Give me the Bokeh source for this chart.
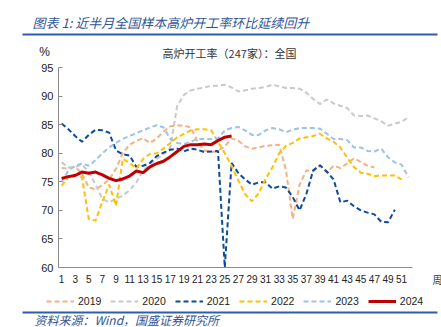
from bokeh.plotting import figure
from bokeh.models import Range1d, FixedTicker, Label, BoxAnnotation, Legend, LinearAxis
from bokeh.embed import file_html
from bokeh.resources import INLINE

weeks_all = list(range(1, 53))

y2019 = [77.4, 77.3, 77.6, 76.5, 74.0, 73.7, 74.4, 75.4, 77.3, 80.0, 81.5, 82.2, 82.6, 81.8, 82.6, 83.8,
         84.7, 84.9, 84.8, 84.5, 82.0, 80.5, 80.2, 80.4, 81.2, 82.6, 82.2, 81.2, 80.8, 81.0, 81.3, 81.4,
         81.5, 77.0, 68.5, 74.5, 77.0, 76.8, 77.8, 76.6, 77.8, 77.4, 78.2, 79.1, 78.5, 77.8, 77.5]
y2020 = [78.4, 77.5, 77.6, 78.0, 76.8, 74.5, 72.0, 71.4, 72.0, 72.6, 73.5, 74.9, 77.0, 78.0, 79.0, 79.8,
         81.0, 88.3, 90.2, 91.0, 91.3, 91.5, 91.8, 91.8, 92.0, 91.5, 90.8, 91.0, 91.3, 91.4, 91.6, 92.0,
         91.7, 91.4, 91.4, 91.3, 90.6, 89.5, 88.6, 89.4, 88.7, 88.3, 87.9, 86.6, 86.5, 86.6, 86.1, 85.6,
         84.8, 85.2, 85.5, 86.3]
y2021 = [85.2, 84.2, 83.0, 82.0, 83.2, 84.1, 84.0, 83.6, 80.5, 79.8, 79.6, 77.6, 77.8, 78.3, 79.5, 80.1,
         80.6, 80.8, 80.3, 80.8, 80.6, 80.2, 80.3, 80.4, 60.0, 78.3, 76.5, 75.4, 74.5, 74.9, 74.9, 73.8,
         74.2, 74.0, 72.3, 70.0, 72.9, 77.0, 77.9, 76.8, 75.4, 71.4, 71.7, 70.7, 70.0, 69.6, 69.3, 68.0,
         67.9, 70.1]
y2022 = [74.3, 75.8, 76.3, 75.8, 68.5, 68.2, 71.5, 74.5, 70.8, 79.0, 78.3, 77.3, 79.0, 79.9, 80.0, 80.8,
         81.8, 82.8, 83.4, 84.0, 84.2, 84.2, 84.0, 82.0, 80.0, 77.8, 75.2, 72.8, 71.6, 73.0, 75.5, 77.5,
         80.0, 81.3, 81.8, 82.6, 82.8, 83.0, 83.4, 82.6, 82.0, 81.0, 79.2, 77.6, 76.6, 76.4, 76.0, 76.1,
         76.1, 76.1, 75.4]
y2023 = [74.9, 77.0, 77.8, 78.2, 77.8, 78.8, 80.0, 81.0, 81.8, 82.5, 83.0, 83.5, 84.0, 84.5, 84.9, 84.5,
         82.5, 81.8, 81.6, 82.0, 82.5, 82.5, 82.5, 82.6, 84.0, 84.4, 84.6, 84.0, 83.2, 83.2, 84.0, 84.4,
         84.2, 83.7, 84.1, 84.4, 84.4, 84.4, 84.3, 83.4, 82.5, 82.5, 82.3, 81.0, 81.0, 80.4, 80.3, 80.8,
         79.3, 78.4, 78.0, 75.8]
y2024 = [75.6, 75.9, 76.1, 76.7, 76.5, 76.7, 76.2, 75.6, 75.2, 75.5, 76.0, 76.9, 76.6, 77.6, 78.2, 78.6,
         79.4, 80.3, 81.2, 81.5, 81.5, 81.6, 81.5, 82.2, 82.8, 83.0]

x_ticks = list(range(1, 52, 2))
y_ticks = [60, 65, 70, 75, 80, 85, 90, 95]
x_unit = "周"
y_unit = "%"
main_title = "图表 1:  近半月全国样本高炉开工率环比延续回升"
chart_title = "高炉开工率（247家）：全国"
source_text = "资料来源：Wind，国盛证券研究所"

series = [
    ("2019", y2019, "#F4B183", "dashed"),
    ("2020", y2020, "#C9C9C9", "dashed"),
    ("2021", y2021, "#0B4A9C", "dashed"),
    ("2022", y2022, "#FFC000", "dashed"),
    ("2023", y2023, "#9DC3E6", "dashed"),
    ("2024", y2024, "#C00000", "solid"),
]

# ---- layout geometry (canvas pixels); the frame covers the whole canvas ----
W, H = 441, 327
AX_X, AX_R = 58, 412        # x-axis extent
AX_T, AX_B = 67, 267        # y-axis extent
X0, X1 = 0.55, 52.6         # data values at AX_X / AX_R
Y0, Y1 = 60, 95
kx = (AX_R - AX_X) / (X1 - X0)
ky = (AX_B - AX_T) / (Y1 - Y0)

def dx(cx):  # canvas x -> data x
    return X0 + (cx - AX_X) / kx

def dy(cy):  # canvas y -> data y
    return Y0 + (AX_B - cy) / ky

p = figure(width=W, height=H, output_backend="svg", toolbar_location=None,
           x_range=Range1d(dx(0), dx(W)), y_range=Range1d(dy(H), dy(0)),
           x_axis_type=None, y_axis_type=None)
p.min_border = 0
p.min_border_left = 0
p.min_border_right = 0
p.min_border_top = 0
p.min_border_bottom = 0
p.outline_line_color = None
p.background_fill_color = "white"
p.border_fill_color = "white"

items = []
for name, ys, col, kind in series:
    xs = weeks_all[:len(ys)]
    if kind == "dashed":
        r = p.line(xs, ys, line_color=col, line_width=2, line_dash="5 3")
    else:
        r = p.line(xs, ys, line_color=col, line_width=3)
    items.append((name, [r]))

lab_font = "Liberation Sans"
cjk = "Noto Sans CJK SC"
axis_col = "#8C8C8C"

yax = LinearAxis(fixed_location=X0, bounds=(Y0, Y1), ticker=FixedTicker(ticks=y_ticks),
                 axis_line_color=axis_col, major_tick_in=4, major_tick_out=0,
                 major_tick_line_color=axis_col, minor_tick_line_color=None,
                 major_label_text_font=lab_font, major_label_text_font_size="11px",
                 major_label_text_color="#222222", major_label_standoff=5)
p.add_layout(yax, "left")

xax = LinearAxis(fixed_location=Y0, bounds=(X0, X1), ticker=FixedTicker(ticks=x_ticks),
                 axis_line_color=axis_col, major_tick_in=0, major_tick_out=0,
                 major_tick_line_color=None, minor_tick_line_color=None,
                 major_label_text_font=lab_font, major_label_text_font_size="10px",
                 major_label_text_color="#222222", major_label_standoff=7)
p.add_layout(xax, "below")

def sx(cx):
    return cx

def sy(cy):
    return H - cy

legend = Legend(items=items, orientation="horizontal", location=(sx(46), sy(307)),
                glyph_width=28, glyph_height=10, label_standoff=4, spacing=9,
                padding=0, margin=0, background_fill_alpha=0, border_line_color=None,
                label_text_font=lab_font, label_text_font_size="10.5px", label_text_color="#222222")
p.add_layout(legend, "center")

p.add_layout(Label(x=sx(32), y=sy(22), x_units="screen", y_units="screen",
                   text=main_title, text_font=cjk,
                   text_font_size="13px", text_font_style="italic", text_color="#2F5597",
                   text_baseline="middle", text_align="left"))
p.add_layout(Label(x=sx(44), y=sy(51), x_units="screen", y_units="screen",
                   text=y_unit, text_font=lab_font, text_font_size="12px", text_color="#222222",
                   text_baseline="middle", text_align="center"))
p.add_layout(Label(x=sx(229), y=sy(52), x_units="screen", y_units="screen",
                   text=chart_title, text_font=cjk, text_font_size="11px",
                   text_color="#333333", text_baseline="middle", text_align="center"))
p.add_layout(Label(x=sx(437), y=sy(279), x_units="screen", y_units="screen",
                   text=x_unit, text_font=cjk, text_font_size="10px",
                   text_color="#333333", text_baseline="middle", text_align="center"))
p.add_layout(Label(x=sx(34), y=sy(319), x_units="screen", y_units="screen",
                   text=source_text, text_font=cjk, text_font_size="12px",
                   text_font_style="italic", text_color="#2F5597",
                   text_baseline="middle", text_align="left"))
for top_cy in (33, 311):
    p.add_layout(BoxAnnotation(left=sx(22), right=sx(437), top=sy(top_cy), bottom=sy(top_cy + 2),
                               left_units="screen", right_units="screen", top_units="screen",
                               bottom_units="screen", fill_color="#2E5EA8", fill_alpha=1,
                               line_color=None))

open("out.html", "w").write(file_html(p, INLINE))
